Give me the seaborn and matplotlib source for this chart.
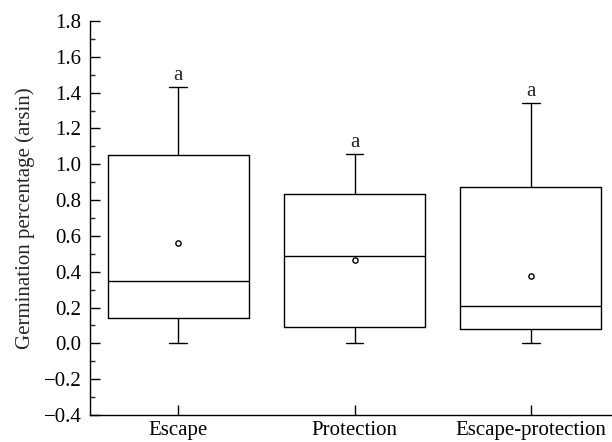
import matplotlib
matplotlib.use("Agg")
import matplotlib.pyplot as plt
import seaborn as sns
import pandas as pd
from matplotlib.ticker import MultipleLocator, FuncFormatter

# Five-number summaries (min, Q1, median, Q3, max)
categories = ["Escape", "Protection", "Escape-protection"]
mins = [0.0, 0.0, 0.0]
q1s = [0.14, 0.089, 0.08]
medians = [0.35, 0.49, 0.21]
q3s = [1.052, 0.832, 0.871]
maxs = [1.432, 1.059, 1.342]
means = [0.559, 0.465, 0.378]
letters = ["a", "a", "a"]

rows = []
for i, c in enumerate(categories):
    for v in (mins[i], q1s[i], medians[i], q3s[i], maxs[i]):
        rows.append({"group": c, "value": v})
df = pd.DataFrame(rows)

sns.set_style("ticks")
plt.rcParams["font.family"] = ["Liberation Serif", "DejaVu Serif"]
FS = 15
plt.rcParams["font.size"] = FS

fig = plt.figure(figsize=(6.12, 4.42), dpi=100)
ax = fig.add_axes([90 / 612, 27 / 442, (612 - 90) / 612, (415 - 21) / 442])

sns.boxplot(data=df, x="group", y="value", order=categories, whis=(0, 100),
            width=0.8, fill=False, color="black", linecolor="black",
            linewidth=1.0, ax=ax)

# narrow the whisker caps
ends = set(round(v, 6) for v in mins + maxs)
for line in ax.lines:
    xd = list(line.get_xdata())
    yd = list(line.get_ydata())
    if len(xd) == 2 and yd[0] == yd[1] and round(float(yd[0]), 6) in ends:
        c = (float(xd[0]) + float(xd[1])) / 2
        line.set_xdata([c - 0.05, c + 0.05])

ax.plot(range(len(categories)), means, linestyle="none", marker="o",
        markersize=3.8, markerfacecolor="white", markeredgecolor="black",
        markeredgewidth=1.0, zorder=5)

for i, (t, l) in enumerate(zip(maxs, letters)):
    ax.text(i, t + 0.012, l, ha="center", va="bottom", fontsize=FS)

ax.set_ylim(-0.4, 1.8)
ax.set_xlim(-0.5, 2.46)
ax.yaxis.set_major_locator(MultipleLocator(0.2))
ax.yaxis.set_minor_locator(MultipleLocator(0.1))
ax.yaxis.set_major_formatter(FuncFormatter(lambda v, p: f"{v:.1f}".replace("-", "\u2212")))
ax.tick_params(axis="both", which="major", direction="in", length=7, width=1,
               colors="black", labelsize=FS)
ax.tick_params(axis="y", which="major", pad=6)
ax.tick_params(axis="x", which="major", pad=4)
ax.tick_params(axis="y", which="minor", direction="in", length=3.5, width=1)
ax.set_xlabel("")
ax.set_ylabel("Germination percentage (arsin)", fontsize=FS, labelpad=6)
for s in ["top", "right"]:
    ax.spines[s].set_visible(False)
for s in ["left", "bottom"]:
    ax.spines[s].set_linewidth(1.0)
    ax.spines[s].set_color("black")

fig.savefig("out.png", dpi=100)
